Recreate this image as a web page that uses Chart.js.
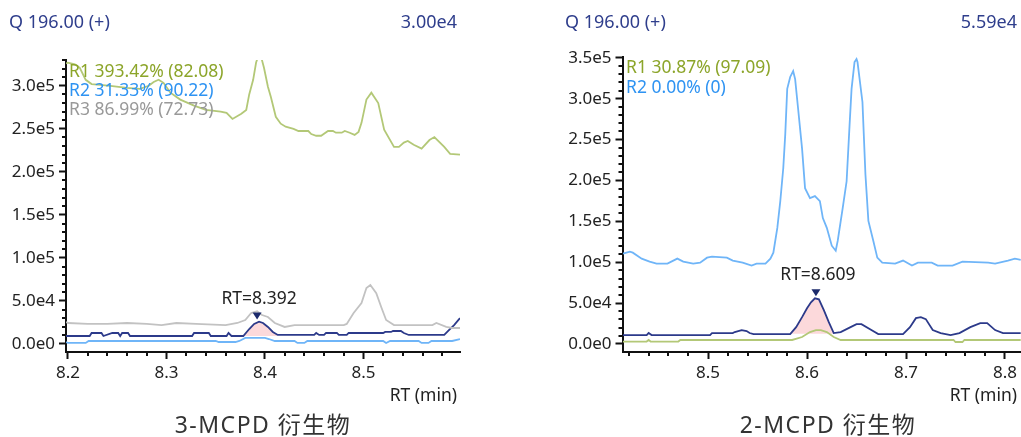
<!DOCTYPE html>
<html>
<head>
<meta charset="utf-8">
<script src="https://cdn.jsdelivr.net/npm/chart.js@4.4.0/dist/chart.umd.min.js"></script>
<style>
body { margin: 0; width: 1021px; height: 437px; position: relative; overflow: hidden; background: #fff;
  font-family: "Noto Sans", "Noto Sans CJK SC", sans-serif; }
.box { position: absolute; top: 0; height: 437px; }
.t { position: absolute; white-space: nowrap; line-height: 1; }
.title { color: #2f3e8c; font-size: 18px; top: 12px; }
.leg { font-size: 17.5px; }
.axt { font-size: 17.5px; color: #222; top: 386px; }
.cap { font-size: 23px; letter-spacing: 1.5px; color: #333; top: 413px; width: 300px; text-align: center; }
</style>
</head>
<body>
<div class="box" style="left:0;width:470px"><canvas id="left"></canvas></div>
<div class="box" style="left:540px;width:481px"><canvas id="right"></canvas></div>

<div class="t title" style="left:9px">Q 196.00 (+)</div>
<div class="t title" style="right:564px">3.00e4</div>
<div class="t title" style="left:565px">Q 196.00 (+)</div>
<div class="t title" style="right:4px">5.59e4</div>

<div class="t leg" style="left:69px;top:62px;color:#8ca52a">R1 393.42% (82.08)</div>
<div class="t leg" style="left:69px;top:81px;color:#2e93f2">R2 31.33% (90.22)</div>
<div class="t leg" style="left:69px;top:100px;color:#999">R3 86.99% (72.73)</div>
<div class="t leg" style="left:626px;top:58px;color:#8ca52a">R1 30.87% (97.09)</div>
<div class="t leg" style="left:626px;top:78px;color:#2e93f2">R2 0.00% (0)</div>

<div class="t axt" style="right:564px">RT (min)</div>
<div class="t axt" style="right:4px">RT (min)</div>
<div class="t cap" style="left:113px">3-MCPD 衍生物</div>
<div class="t cap" style="left:678px">2-MCPD 衍生物</div>

<script>
// ---- left panel: 3-MCPD ----
var rtR1L = [8.198, 8.2, 8.207, 8.212, 8.218, 8.224, 8.233, 8.243, 8.26, 8.273, 8.282, 8.287, 8.292, 8.297, 8.304, 8.314, 8.328, 8.34, 8.355, 8.361, 8.367, 8.376, 8.381, 8.384, 8.388, 8.391, 8.393, 8.396, 8.399, 8.403, 8.406, 8.411, 8.416, 8.421, 8.429, 8.434, 8.444, 8.447, 8.452, 8.457, 8.464, 8.469, 8.472, 8.478, 8.481, 8.486, 8.491, 8.495, 8.498, 8.503, 8.508, 8.515, 8.521, 8.531, 8.536, 8.541, 8.545, 8.551, 8.559, 8.567, 8.572, 8.582, 8.588, 8.598]
var r1L = [326000, 327000, 325000, 321000, 307000, 302000, 301000, 300000, 297500, 296500, 300000, 304500, 307000, 303500, 292000, 284000, 277000, 272000, 270000, 268500, 261500, 267500, 272000, 290000, 307000, 327000, 334000, 334000, 321000, 299000, 287000, 264000, 256000, 252500, 250000, 247500, 247500, 244000, 242000, 242000, 247500, 247500, 245500, 245500, 247500, 245500, 243000, 246500, 257000, 284000, 292000, 280000, 249000, 229000, 229000, 234000, 236000, 231500, 227000, 237000, 240500, 229000, 221000, 220000]

var rtR2L = [8.198, 8.2, 8.218, 8.221, 8.35, 8.353, 8.37, 8.374, 8.38, 8.4, 8.404, 8.41, 8.43, 8.433, 8.44, 8.443, 8.52, 8.523, 8.527, 8.556, 8.559, 8.566, 8.569, 8.59, 8.598]
var r2L = [2300, 1200, 1200, 3500, 3500, 2300, 2300, 3500, 7000, 7000, 5800, 3500, 3500, 1200, 1200, 3500, 3500, 1200, 3500, 3500, 1200, 1200, 3500, 3500, 5800]

var rtR3L = [8.198, 8.2, 8.22, 8.24, 8.26, 8.28, 8.295, 8.31, 8.33, 8.36, 8.372, 8.38, 8.386, 8.392, 8.397, 8.403, 8.41, 8.42, 8.43, 8.46, 8.48, 8.483, 8.49, 8.498, 8.503, 8.507, 8.513, 8.518, 8.523, 8.531, 8.57, 8.574, 8.584, 8.59, 8.598]
var r3L = [25600, 24400, 23300, 23300, 24400, 23300, 22000, 24400, 23300, 22000, 24400, 27900, 36000, 38000, 33700, 31400, 24400, 19800, 22000, 22000, 22000, 23300, 36000, 47700, 65000, 68600, 59000, 43000, 27900, 22000, 22000, 24400, 19800, 18600, 18600]

var rtQL = [8.198, 8.222, 8.224, 8.234, 8.236, 8.245, 8.251, 8.253, 8.255, 8.261, 8.263, 8.326, 8.328, 8.343, 8.345, 8.361, 8.363, 8.366, 8.378, 8.384, 8.389, 8.394, 8.398, 8.403, 8.408, 8.413, 8.45, 8.452, 8.455, 8.46, 8.462, 8.473, 8.475, 8.483, 8.485, 8.52, 8.522, 8.528, 8.53, 8.538, 8.541, 8.546, 8.582, 8.587, 8.592, 8.598]
var qL = [9300, 9300, 12800, 12800, 9300, 12800, 12800, 9300, 12800, 12800, 9300, 9300, 12800, 12800, 9300, 9300, 12800, 9300, 9300, 17400, 23300, 26000, 24400, 19800, 14000, 10500, 10500, 12800, 10500, 10500, 12800, 12800, 10500, 10500, 12800, 12800, 14000, 14000, 15100, 15100, 12800, 10500, 10500, 16300, 22000, 30000]

var xTicksL = [8.2, 8.3, 8.4, 8.5]
var xLabelsL = ['8.2', '8.3', '8.4', '8.5']
var yTicksL = [0, 50000, 100000, 150000, 200000, 250000, 300000]
var yLabelsL = ['0.0e0', '5.0e4', '1.0e5', '1.5e5', '2.0e5', '2.5e5', '3.0e5']

// ---- right panel: 2-MCPD ----
var rtR1R = [8.414, 8.438, 8.44, 8.442, 8.47, 8.472, 8.585, 8.595, 8.603, 8.609, 8.614, 8.62, 8.627, 8.634, 8.748, 8.75, 8.757, 8.759, 8.816]
var r1R = [3000, 3000, 4900, 3000, 3000, 4900, 4900, 8500, 14600, 17000, 17000, 14600, 8500, 4900, 4900, 2400, 2400, 4900, 4900]

var rtR2R = [8.414, 8.421, 8.424, 8.433, 8.441, 8.448, 8.459, 8.469, 8.475, 8.485, 8.492, 8.499, 8.504, 8.519, 8.525, 8.535, 8.544, 8.549, 8.558, 8.563, 8.566, 8.57, 8.573, 8.576, 8.578, 8.58, 8.583, 8.586, 8.588, 8.591, 8.595, 8.598, 8.603, 8.608, 8.613, 8.616, 8.62, 8.625, 8.629, 8.631, 8.636, 8.64, 8.643, 8.645, 8.648, 8.65, 8.651, 8.656, 8.659, 8.662, 8.667, 8.671, 8.676, 8.689, 8.697, 8.706, 8.712, 8.726, 8.732, 8.747, 8.757, 8.783, 8.79, 8.803, 8.81, 8.816]
var r2R = [110500, 112900, 111700, 104400, 100800, 98300, 98300, 104400, 100800, 98300, 99500, 105600, 106800, 105600, 102000, 99500, 95900, 98300, 98300, 104400, 111700, 142000, 174800, 214900, 256000, 312000, 326600, 333900, 324000, 287700, 239000, 190600, 178500, 180900, 174800, 154000, 142000, 120200, 114000, 126000, 166000, 199000, 268000, 312000, 344800, 348400, 344800, 296000, 207600, 150500, 126000, 105600, 99500, 98300, 102000, 95900, 99500, 99500, 95900, 95900, 100800, 99500, 98300, 102000, 104400, 103000]

var rtQR = [8.414, 8.438, 8.44, 8.443, 8.502, 8.504, 8.525, 8.527, 8.534, 8.539, 8.542, 8.546, 8.583, 8.589, 8.595, 8.6, 8.604, 8.608, 8.612, 8.617, 8.622, 8.627, 8.634, 8.644, 8.65, 8.655, 8.665, 8.672, 8.697, 8.704, 8.71, 8.715, 8.72, 8.727, 8.735, 8.745, 8.754, 8.765, 8.775, 8.782, 8.79, 8.798, 8.816]
var qR = [10900, 10900, 13400, 10900, 10900, 13400, 13400, 14600, 17000, 15800, 13400, 12100, 12100, 20600, 32800, 43700, 50900, 55900, 54600, 41300, 26700, 13400, 14600, 20600, 24300, 24300, 17000, 12100, 12100, 20600, 31600, 32800, 30400, 17000, 13400, 10900, 13400, 20600, 25500, 25500, 17000, 13400, 13400]

var xTicksR = [8.5, 8.6, 8.7, 8.8]
var xLabelsR = ['8.5', '8.6', '8.7', '8.8']
var yTicksR = [0, 50000, 100000, 150000, 200000, 250000, 300000, 350000]
var yLabelsR = ['0.0e0', '5.0e4', '1.0e5', '1.5e5', '2.0e5', '2.5e5', '3.0e5', '3.5e5']

var FONT = '"Noto Sans", "Noto Sans CJK SC", sans-serif'
var GREEN = '#b3c877', BLUE = '#6fb5f8', GRAY = '#c2c2c2', NAVY = '#2c3a8a'

// minor ticks, peak marker and RT label
var decor = {
	id: 'decor',
	afterDatasetsDraw: function(chart) {
		var o = chart.options.plugins.decor
		var ctx = chart.ctx, x = chart.scales.x, y = chart.scales.y
		var px = x.getPixelForValue(o.peakRT), py = y.getPixelForValue(o.peakVal) - 2
		ctx.save()
		ctx.fillStyle = '#1b2a6b'
		ctx.beginPath()
		ctx.moveTo(px - 4.5, py - 7)
		ctx.lineTo(px + 4.5, py - 7)
		ctx.lineTo(px, py)
		ctx.closePath()
		ctx.fill()
		ctx.fillStyle = '#222'
		ctx.font = '17.5px ' + FONT
		ctx.textAlign = 'center'
		ctx.textBaseline = 'alphabetic'
		ctx.fillText(o.label, px + 2, py - 16)
		ctx.restore()
	},
	afterDraw: function(chart) {
		var o = chart.options.plugins.decor
		var ctx = chart.ctx, a = chart.chartArea, x = chart.scales.x, y = chart.scales.y
		ctx.save()
		ctx.strokeStyle = '#111'
		ctx.lineWidth = 2
		ctx.beginPath()
		for (var k = Math.ceil(y.min / o.yStep); k * o.yStep <= y.max; k++) {
			if (k % 5 === 0) continue
			var yy = Math.round(y.getPixelForValue(k * o.yStep))
			ctx.moveTo(a.left - 4, yy)
			ctx.lineTo(a.left, yy)
		}
		for (var j = Math.ceil(x.min / o.xStep - 1e-6); j * o.xStep <= x.max + 1e-9; j++) {
			if (j % 5 === 0) continue
			var xx = Math.round(x.getPixelForValue(j * o.xStep))
			ctx.moveTo(xx, a.bottom)
			ctx.lineTo(xx, a.bottom + 4)
		}
		ctx.stroke()
		ctx.restore()
	}
}

function points(xs, ys) {
	var p = []
	for (var i = 0; i < xs.length; i++) {
		p.push({x: xs[i], y: ys[i]})
	}
	return p
}

function line(xs, ys, color) {
	return {
		data: points(xs, ys),
		borderColor: color,
		borderWidth: 1.8,
		pointRadius: 0,
		tension: 0,
		fill: false,
		order: 1
	}
}

function createChart(id, c) {
	var area = points(c.qRT, c.q).filter(function(p) {
		return p.x >= c.win[0] && p.x <= c.win[1]
	})
	var datasets = [
		line(c.rt3 || [], c.v3 || [], GRAY),
		line(c.qRT, c.q, NAVY),
		line(c.rt2, c.v2, BLUE),
		line(c.rt1, c.v1, GREEN),
		{data: area, borderWidth: 0, pointRadius: 0, backgroundColor: '#fcd9db', fill: {value: c.base}, order: 10}
	]
	var tickFont = {family: FONT, size: 17}
	return new Chart(document.getElementById(id), {
		type: 'line',
		data: {datasets: datasets},
		plugins: [decor],
		options: {
			responsive: true,
			maintainAspectRatio: false,
			devicePixelRatio: 1,
			animation: false,
			layout: {padding: {left: 0, top: c.top, right: c.right, bottom: 32}},
			plugins: {
				legend: {display: false},
				tooltip: {enabled: false},
				decor: {peakRT: c.peakRT, peakVal: c.peakVal, label: c.label, yStep: 10000, xStep: 0.02}
			},
			scales: {
				x: {
					type: 'linear',
					min: c.xMin,
					max: c.xMax,
					afterFit: function(s) { s.height = 405 - c.bottom },
					afterBuildTicks: function(s) { s.ticks = c.xTicks.map(function(v) { return {value: v} }) },
					ticks: {
						callback: function(v, i) { return c.xLabels[i] },
						color: '#222', font: tickFont, padding: 4, maxRotation: 0, autoSkip: false
					},
					grid: {drawOnChartArea: false, drawTicks: true, tickLength: 7, tickColor: '#111', tickWidth: 2},
					border: {display: true, color: '#111', width: 2}
				},
				y: {
					min: c.yMin,
					max: c.yMax,
					afterFit: function(s) { s.width = c.yWidth },
					afterBuildTicks: function(s) { s.ticks = c.yTicks.map(function(v) { return {value: v} }) },
					ticks: {
						callback: function(v, i) { return c.yLabels[i] },
						color: '#222', font: tickFont, padding: 4
					},
					grid: {drawOnChartArea: false, drawTicks: true, tickLength: 7, tickColor: '#111', tickWidth: 2},
					border: {display: true, color: '#111', width: 2}
				}
			}
		}
	})
}

createChart('left', {
	rt1: rtR1L, v1: r1L, rt2: rtR2L, v2: r2L, rt3: rtR3L, v3: r3L, qRT: rtQL, q: qL,
	win: [8.378, 8.413], base: 9300,
	peakRT: 8.392, peakVal: 26000, label: 'RT=8.392',
	xMin: 8.198, xMax: 8.598, yMin: -9300, yMax: 330000,
	xTicks: xTicksL, xLabels: xLabelsL, yTicks: yTicksL, yLabels: yLabelsL,
	top: 60, right: 10, bottom: 352, yWidth: 66
})

createChart('right', {
	rt1: rtR1R, v1: r1R, rt2: rtR2R, v2: r2R, qRT: rtQR, q: qR,
	win: [8.583, 8.628], base: 12500,
	peakRT: 8.609, peakVal: 55900, label: 'RT=8.609',
	xMin: 8.4136, xMax: 8.816, yMin: -9800, yMax: 351000,
	xTicks: xTicksR, xLabels: xLabelsR, yTicks: yTicksR, yLabels: yLabelsR,
	top: 57, right: 0, bottom: 352, yWidth: 82.5
})
</script>
</body>
</html>
